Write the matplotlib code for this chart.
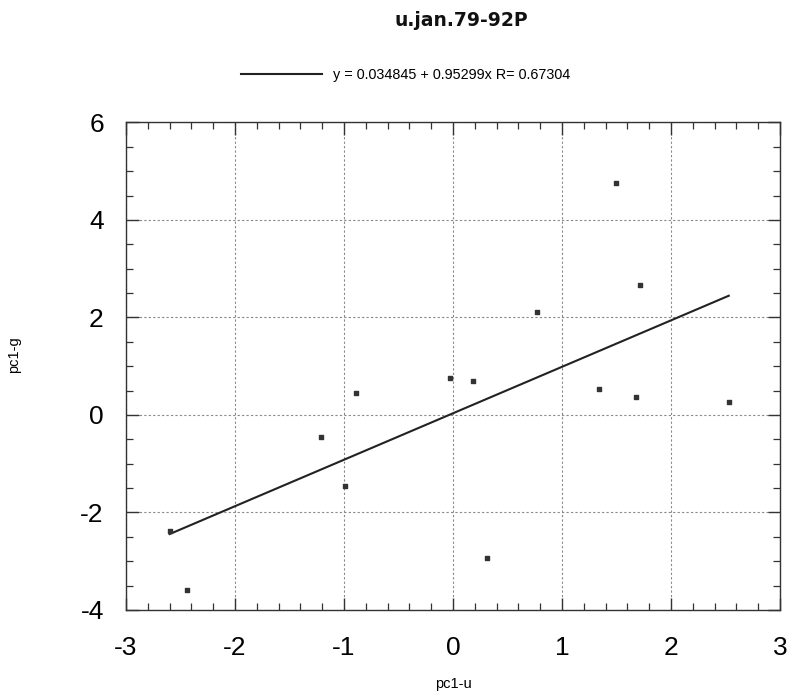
import matplotlib
matplotlib.use("Agg")
import matplotlib.pyplot as plt
import numpy as np
from matplotlib.ticker import MultipleLocator

plt.rcParams['font.family'] = ['Liberation Sans', 'DejaVu Sans']

# data
pc1_u = [-2.60, -2.44, -1.21, -0.99, -0.89, -0.03, 0.18, 0.31, 0.77, 1.34, 1.50, 1.68, 1.72, 2.53]
pc1_g = [-2.39, -3.59, -0.45, -1.46, 0.45, 0.75, 0.69, -2.93, 2.12, 0.53, 4.76, 0.36, 2.67, 0.27]
intercept = 0.034845
slope = 0.95299
r_value = 0.67304
title = "u.jan.79-92P"
x_ticks = [-3, -2, -1, 0, 1, 2, 3]
y_ticks = [-4, -2, 0, 2, 4, 6]

fig = plt.figure(figsize=(7.9, 6.96), dpi=100)
ax = fig.add_axes([0.1595, 0.1236, 0.8278, 0.7004])

xs = np.array([min(pc1_u), max(pc1_u)])
ax.plot(xs, intercept + slope * xs, color='#222222', lw=1.5,
        label=f"y = {intercept} + {slope}x R= {r_value}")
ax.scatter(pc1_u, pc1_g, marker='s', s=12, color='#333333', zorder=3)

ax.set_xlim(-3, 3)
ax.set_ylim(-4, 6)
ax.set_xticks(x_ticks)
ax.set_yticks(y_ticks)
ax.set_xticklabels([str(t) for t in x_ticks])
ax.set_yticklabels([str(t) for t in y_ticks])
ax.xaxis.set_minor_locator(MultipleLocator(0.2))
ax.yaxis.set_minor_locator(MultipleLocator(0.5))
ax.tick_params(which='both', direction='in', top=True, right=True, color='#333333')
ax.tick_params(which='major', length=9, width=1, labelsize=19)
ax.tick_params(which='minor', length=5, width=0.9)
ax.tick_params(axis='x', which='major', pad=19)
ax.tick_params(axis='y', which='major', pad=16)
ax.grid(True, which='major', color='#888888', linestyle=(0, (2, 2)), lw=0.8)
for s in ax.spines.values():
    s.set_color('#333333')
    s.set_linewidth(1.0)

ax.set_xlabel("pc1-u", fontsize=10.5, labelpad=12)
fig.text(14 / 790, 1 - 355 / 696, "pc1-g", rotation=90, fontsize=10.5,
         ha='center', va='center')
fig.text(461 / 790, 1 - 21 / 696, title, fontsize=13.5, fontweight='bold',
         family=['DejaVu Sans'], ha='center', va='center', color='#111111')
fig.legend(loc='center', bbox_to_anchor=(405.5 / 790, 1 - 75 / 696),
           frameon=False, fontsize=10.4, handlelength=5.6, handletextpad=0.8)

fig.savefig("out.png", dpi=100)
